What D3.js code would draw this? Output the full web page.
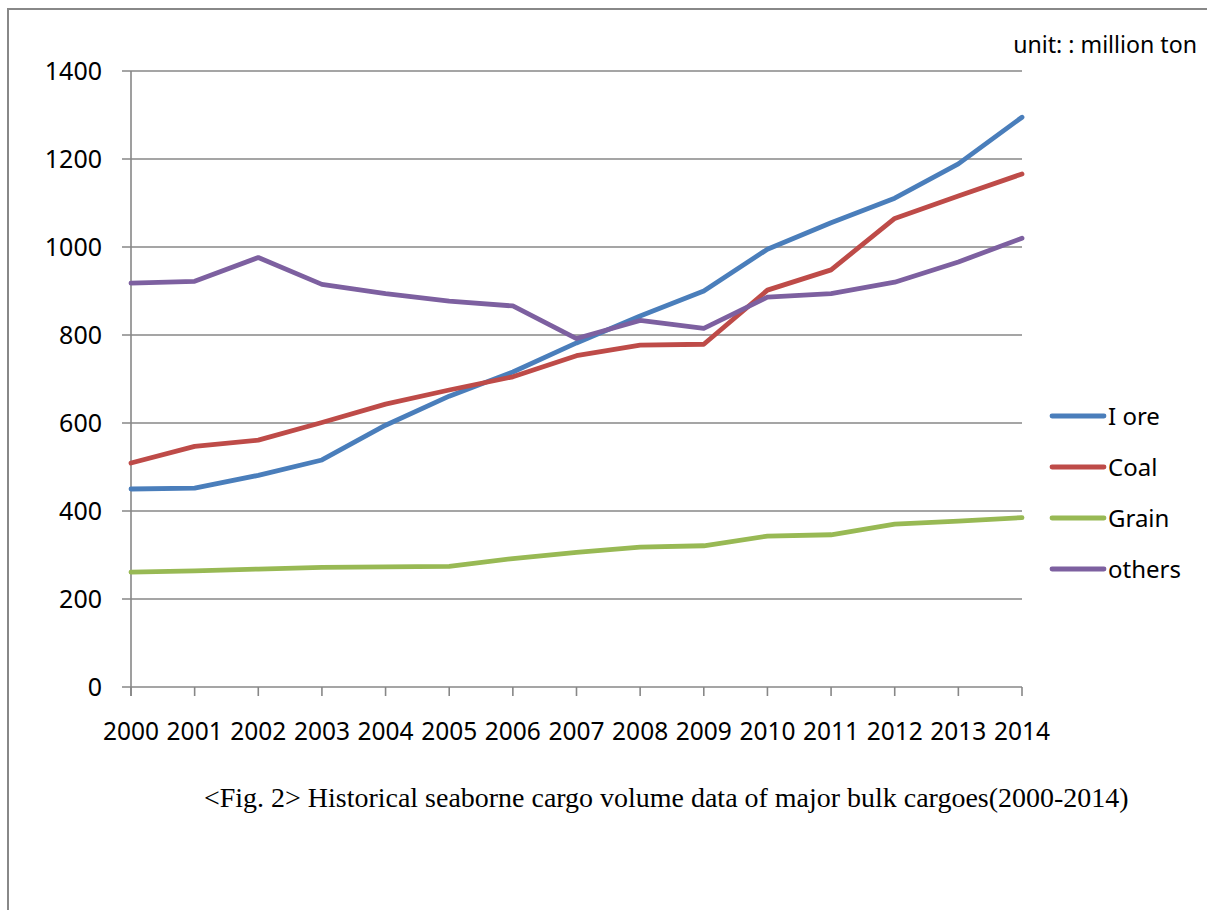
<!DOCTYPE html>
<html>
<head>
<meta charset="utf-8">
<script src="https://cdn.jsdelivr.net/npm/d3@7"></script>
<style>
  html, body { margin: 0; padding: 0; background: #fff; }
  svg { display: block; }
</style>
</head>
<body>
<script>
const years = [2000,2001,2002,2003,2004,2005,2006,2007,2008,2009,2010,2011,2012,2013,2014];
const ironOre = [450,452,481,516,595,661,716,782,843,900,995,1055,1111,1189,1295];
const coal    = [509,547,561,601,643,675,705,753,777,779,902,948,1065,1116,1166];
const grain   = [261,264,268,272,273,274,292,306,318,321,343,346,370,377,385];
const others  = [918,922,976,915,894,877,866,792,833,815,886,894,920,966,1020];
const yTicks  = [0,200,400,600,800,1000,1200,1400];
const seriesNames  = ["I ore","Coal","Grain","others"];
const seriesColors = ["#4a7ebb","#be4b48","#98b954","#7d60a0"];
const seriesValues = [ironOre, coal, grain, others];
const unitLabel = "unit: : million ton";
const caption = "<Fig. 2> Historical seaborne cargo volume data of major bulk cargoes(2000-2014)";

const W = 1207, H = 910;
const svg = d3.select("body").append("svg").attr("width", W).attr("height", H);
const font = "'Noto Sans', 'Open Sans', sans-serif";

// outer frame
svg.append("path").attr("d", `M8,${H} L8,9 L${W},9`)
  .attr("fill","none").attr("stroke","#888").attr("stroke-width",2);

const x = d3.scaleLinear().domain([2000,2014]).range([131,1022]);
const y = d3.scaleLinear().domain([0,1400]).range([687,71]);

// gridlines
svg.append("g").selectAll("line").data(yTicks).join("line")
  .attr("x1",122).attr("x2",1022)
  .attr("y1",d=>y(d)).attr("y2",d=>y(d))
  .attr("stroke","#878787").attr("stroke-width",1.6);

// y axis line
svg.append("line").attr("x1",131).attr("x2",131).attr("y1",y(1400)).attr("y2",y(0)+9)
  .attr("stroke","#878787").attr("stroke-width",1.6);

// x ticks
svg.append("g").selectAll("line").data(years).join("line")
  .attr("x1",d=>x(d)).attr("x2",d=>x(d))
  .attr("y1",y(0)).attr("y2",y(0)+9)
  .attr("stroke","#878787").attr("stroke-width",1.6);

// y labels
svg.append("g").selectAll("text").data(yTicks).join("text")
  .attr("x",102).attr("y",d=>y(d)+9)
  .attr("text-anchor","end")
  .attr("font-family",font).attr("font-size",25).attr("fill","#000")
  .text(d=>d);

// x labels
svg.append("g").selectAll("text").data(years).join("text")
  .attr("x",d=>x(d)).attr("y",740)
  .attr("text-anchor","middle")
  .attr("font-family",font).attr("font-size",24.5).attr("fill","#000")
  .text(d=>d);

// lines
const line = d3.line().x((d,i)=>x(years[i])).y(d=>y(d));
seriesValues.forEach((vals,k)=>{
  svg.append("path").datum(vals)
    .attr("d",line).attr("fill","none")
    .attr("stroke",seriesColors[k]).attr("stroke-width",4.8)
    .attr("stroke-linejoin","round").attr("stroke-linecap","round");
});

// legend
const lg = svg.append("g");
seriesNames.forEach((n,k)=>{
  const ly = 416 + k*51;
  lg.append("line").attr("x1",1052).attr("x2",1104).attr("y1",ly).attr("y2",ly)
    .attr("stroke",seriesColors[k]).attr("stroke-width",4.8).attr("stroke-linecap","round");
  lg.append("text").attr("x",1108).attr("y",ly+9)
    .attr("font-family",font).attr("font-size",24).attr("fill","#000").text(n);
});

// unit label
const unit = svg.append("text").attr("x",1197).attr("y",53).attr("text-anchor","end")
  .attr("font-family",font).attr("font-size",22).attr("fill","#000").text(unitLabel);
const ulen = unit.node().getComputedTextLength();
unit.attr("font-size", Math.min(24, 22*184/ulen));

// caption
const cap = svg.append("text").attr("x",204).attr("y",807)
  .attr("font-family","'Liberation Serif', 'Times New Roman', serif")
  .attr("font-size",23).attr("fill","#000").text(caption);
const len = cap.node().getComputedTextLength();
cap.attr("font-size", 23*925/len);
</script>
</body>
</html>
